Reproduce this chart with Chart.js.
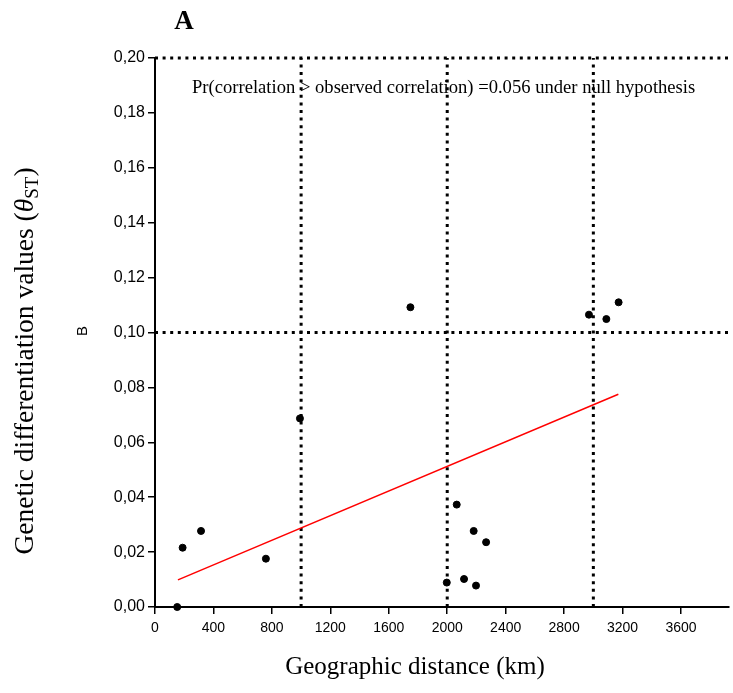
<!DOCTYPE html>
<html>
<head>
<meta charset="utf-8">
<script src="https://cdn.jsdelivr.net/npm/chart.js@4.4.1/dist/chart.umd.min.js"></script>
<style>
  body { margin: 0; background: #fff; }
  canvas { display: block; }
</style>
</head>
<body>
<canvas id="chart" width="733" height="693"></canvas>
<script>
// distanze geografiche (km) e valori theta_ST
const distKm = [152, 189, 315, 759, 992, 1748, 1997, 2065, 2115, 2181, 2197, 2266, 2970, 3089, 3173];
const thetaSt = [0.000, 0.0216, 0.0277, 0.0176, 0.0687, 0.1092, 0.0089, 0.0373, 0.0102, 0.0277, 0.0078, 0.0236, 0.1065, 0.1049, 0.1110];

// retta di regressione (estremi)
const regX = [157, 3171];
const regY = [0.0099, 0.0775];

// linee tratteggiate di riferimento
const refX = [1000, 2000, 3000];
const refY = [0.10, 0.20];

const xTicks = [0, 400, 800, 1200, 1600, 2000, 2400, 2800, 3200, 3600];
const xMax = 3925;
const yMax = 0.20;

const pointData = distKm.map((x, i) => ({ x: x, y: thetaSt[i] }));

const dotted = {
    type: 'line',
    showLine: true,
    borderColor: '#000',
    borderWidth: 3,
    borderDash: [3, 4.6],
    pointRadius: 0,
    fill: false,
    clip: false
};

const refDatasets = [
    ...refX.map(v => ({ ...dotted, data: [{ x: v, y: 0 }, { x: v, y: yMax }] })),
    ...refY.map(v => ({ ...dotted, data: [{ x: 0, y: v }, { x: xMax, y: v }] }))
];

// testi fuori dall'area del grafico
const labelsPlugin = {
    id: 'labels',
    afterDraw(chart) {
        const ctx = chart.ctx;
        ctx.save();
        ctx.fillStyle = '#000';

        ctx.font = 'bold 27px "Liberation Serif", serif';
        ctx.textAlign = 'center';
        ctx.textBaseline = 'alphabetic';
        ctx.fillText('A', 184, 29);

        ctx.font = '18.6px "Liberation Serif", serif';
        ctx.textAlign = 'left';
        ctx.fillText('Pr(correlation > observed correlation) =0.056 under null hypothesis', 192, 93);

        ctx.font = '25px "Liberation Serif", serif';
        ctx.textAlign = 'center';
        ctx.fillText('Geographic distance (km)', 415, 674);

        // titolo asse y con pedice
        ctx.translate(33, 361);
        ctx.rotate(-Math.PI / 2);
        const fs = 27.5;
        const main = 'Genetic differentiation values (';
        ctx.font = fs + 'px "Liberation Serif", serif';
        const w1 = ctx.measureText(main).width;
        ctx.font = 'italic ' + fs + 'px "Liberation Serif", serif';
        const w2 = ctx.measureText('\u03B8').width;
        ctx.font = '19px "Liberation Serif", serif';
        const w3 = ctx.measureText('ST').width;
        ctx.font = fs + 'px "Liberation Serif", serif';
        const w4 = ctx.measureText(')').width;
        let x = -(w1 + w2 + w3 + w4) / 2;
        ctx.textAlign = 'left';
        ctx.fillText(main, x, 0); x += w1;
        ctx.font = 'italic ' + fs + 'px "Liberation Serif", serif';
        ctx.fillText('\u03B8', x, 0); x += w2;
        ctx.font = '19px "Liberation Serif", serif';
        ctx.fillText('ST', x, 5); x += w3;
        ctx.font = fs + 'px "Liberation Serif", serif';
        ctx.fillText(')', x, 0);
        ctx.restore();

        ctx.save();
        ctx.translate(87, 331);
        ctx.rotate(-Math.PI / 2);
        ctx.font = '15px "Liberation Sans", Arial, sans-serif';
        ctx.textAlign = 'center';
        ctx.fillText('B', 0, 0);
        ctx.restore();
    }
};

new Chart(document.getElementById('chart').getContext('2d'), {
    type: 'scatter',
    data: {
        datasets: [
            {
                data: pointData,
                backgroundColor: '#000',
                borderColor: '#000',
                pointRadius: 3.5,
                pointHoverRadius: 3.5,
                clip: false
            },
            {
                type: 'line',
                data: regX.map((x, i) => ({ x: x, y: regY[i] })),
                showLine: true,
                borderColor: '#ff0000',
                borderWidth: 1.5,
                pointRadius: 0,
                fill: false
            },
            ...refDatasets
        ]
    },
    options: {
        responsive: false,
        animation: false,
        layout: { padding: { top: 58, left: 0, right: 0, bottom: 0 } },
        plugins: {
            legend: { display: false },
            tooltip: { enabled: false }
        },
        scales: {
            x: {
                type: 'linear',
                min: 0,
                max: xMax,
                afterBuildTicks: scale => { scale.ticks = xTicks.map(v => ({ value: v })); },
                afterFit: scale => { scale.height = 86; },
                grid: { drawOnChartArea: false, drawTicks: true, tickLength: 7, color: '#000', lineWidth: 1.5 },
                border: { display: true, color: '#000', width: 2 },
                ticks: {
                    color: '#000',
                    padding: 6,
                    maxRotation: 0,
                    font: { family: '"Liberation Sans", Arial, sans-serif', size: 14 },
                    callback: v => String(v)
                }
            },
            y: {
                type: 'linear',
                min: 0,
                max: yMax,
                afterFit: scale => { scale.width = 155; },
                grid: { drawOnChartArea: false, drawTicks: true, tickLength: 7, color: '#000', lineWidth: 1.5 },
                border: { display: true, color: '#000', width: 2 },
                ticks: {
                    stepSize: 0.02,
                    color: '#000',
                    padding: 3,
                    font: { family: '"Liberation Sans", Arial, sans-serif', size: 16 },
                    callback: v => v.toFixed(2).replace('.', ',')
                }
            }
        }
    },
    plugins: [labelsPlugin]
});
</script>
</body>
</html>
